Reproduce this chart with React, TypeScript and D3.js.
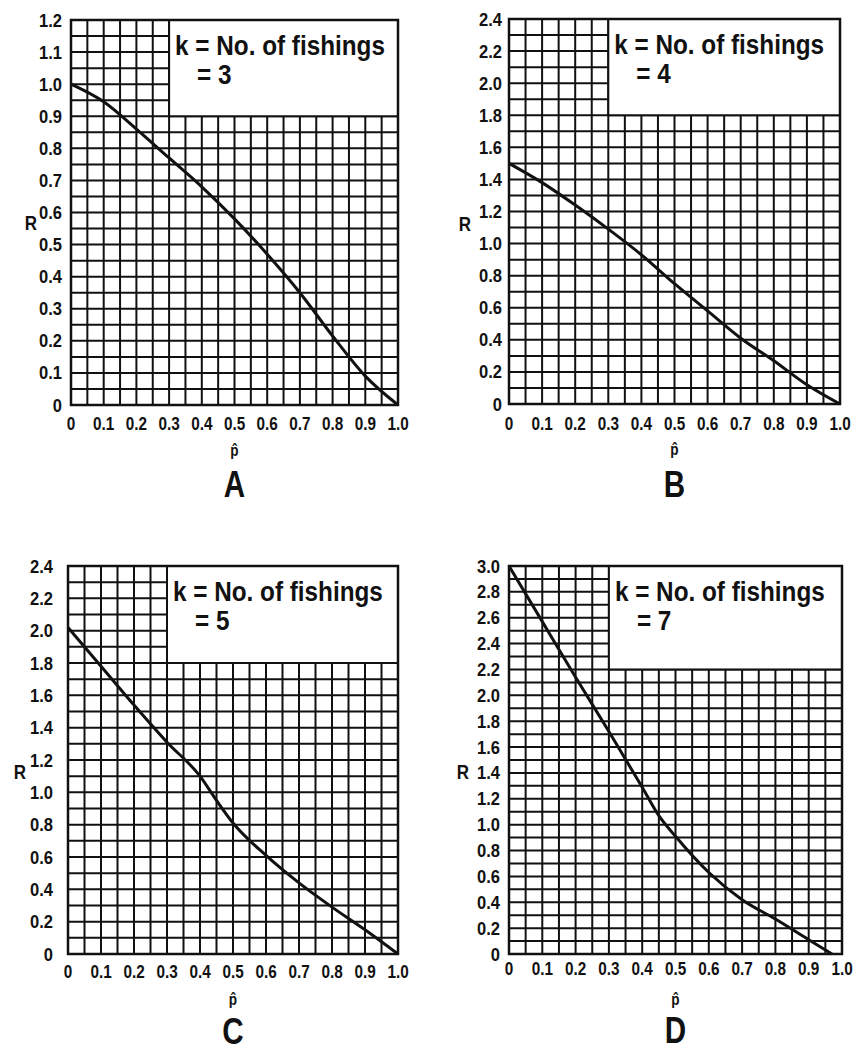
import React from "react";
import * as d3 from "d3";

// curve values (p-hat vs R)
const pA = [0, 0.1, 0.2, 0.3, 0.4, 0.5, 0.6, 0.7, 0.8, 0.9, 1.0];
const rA = [1.0, 0.945, 0.86, 0.77, 0.68, 0.58, 0.47, 0.35, 0.215, 0.09, 0];

const pB = [0, 0.1, 0.2, 0.3, 0.4, 0.5, 0.6, 0.7, 0.8, 0.9, 1.0];
const rB = [1.5, 1.38, 1.24, 1.09, 0.93, 0.75, 0.58, 0.41, 0.27, 0.12, 0];

const pC = [0, 0.1, 0.2, 0.3, 0.4, 0.45, 0.5, 0.6, 0.7, 0.8, 0.9, 1.0];
const rC = [2.02, 1.78, 1.54, 1.31, 1.1, 0.95, 0.81, 0.61, 0.44, 0.29, 0.15, 0];

const pD = [0, 0.1, 0.2, 0.3, 0.4, 0.45, 0.5, 0.6, 0.7, 0.8, 0.9, 0.97];
const rD = [3.0, 2.57, 2.14, 1.72, 1.29, 1.07, 0.91, 0.63, 0.42, 0.27, 0.11, 0];

const xTicks = [0, 0.1, 0.2, 0.3, 0.4, 0.5, 0.6, 0.7, 0.8, 0.9, 1.0];
const xTickLabels = ["0", "0.1", "0.2", "0.3", "0.4", "0.5", "0.6", "0.7", "0.8", "0.9", "1.0"];
const yTicksA = [0, 0.1, 0.2, 0.3, 0.4, 0.5, 0.6, 0.7, 0.8, 0.9, 1.0, 1.1, 1.2];
const yTicksBC = [0, 0.2, 0.4, 0.6, 0.8, 1.0, 1.2, 1.4, 1.6, 1.8, 2.0, 2.2, 2.4];
const yTicksD = [0, 0.2, 0.4, 0.6, 0.8, 1.0, 1.2, 1.4, 1.6, 1.8, 2.0, 2.2, 2.4, 2.6, 2.8, 3.0];

const panelLetters = ["A", "B", "C", "D"];
const fishings = [3, 4, 5, 7];
const legendLabel = "k = No. of fishings";

const FONT = "'Liberation Sans', Arial, sans-serif";
const INK = "#111";

function fmtY(v) {
  return v === 0 ? "0" : v.toFixed(1);
}

// bold text squeezed horizontally to mimic the condensed typeface
function T({ x, y, size, sx = 0.85, anchor = "start", children }) {
  return (
    <text
      transform={`translate(${x},${y}) scale(${sx},1)`}
      fontSize={size}
      fontWeight="bold"
      fontFamily={FONT}
      textAnchor={anchor}
      fill={INK}
    >
      {children}
    </text>
  );
}

function Panel({ left, right, top, bottom, yMax, rowStep, legendY, p, r, yTicks, letter, k, labelGap, rX, rAt, xDy, letterDy }) {
  const x = d3.scaleLinear().domain([0, 1]).range([left, right]);
  const y = d3.scaleLinear().domain([0, yMax]).range([bottom, top]);
  const cols = d3.range(0, 1.0001, 0.05);
  const rows = d3.range(0, yMax + 0.0001, rowStep);
  const line = d3
    .line()
    .x((d) => x(d[0]))
    .y((d) => y(d[1]))
    .curve(d3.curveMonotoneX);
  const pts = p.map((v, i) => [v, r[i]]);
  const cx = (left + right) / 2;
  const lx = x(0.3);

  return (
    <g>
      {cols.map((c, i) => (
        <line key={"c" + i} x1={x(c)} x2={x(c)} y1={top} y2={bottom} stroke={INK} strokeWidth={2} />
      ))}
      {rows.map((rv, i) => (
        <line key={"r" + i} x1={left} x2={right} y1={y(rv)} y2={y(rv)} stroke={INK} strokeWidth={2} />
      ))}
      <rect x={lx} y={top} width={x(1) - lx} height={y(legendY) - top} fill="#fff" stroke={INK} strokeWidth={2} />
      <rect x={left} y={top} width={right - left} height={bottom - top} fill="none" stroke={INK} strokeWidth={2.5} />
      <path d={line(pts)} fill="none" stroke={INK} strokeWidth={3} />

      <T x={lx + 6} y={top + 35} size={27} sx={0.9}>{legendLabel}</T>
      <T x={lx + 28} y={top + 64} size={27} sx={0.9}>{"= " + k}</T>

      {xTicks.map((t, i) => (
        <T key={"xt" + i} x={x(t)} y={bottom + xDy} size={18} sx={0.85} anchor="middle">
          {xTickLabels[i]}
        </T>
      ))}
      {yTicks.map((t, i) => (
        <T key={"yt" + i} x={left - labelGap} y={y(t) + 6.5} size={18} sx={0.92} anchor="end">
          {fmtY(t)}
        </T>
      ))}
      <T x={rX} y={y(yMax * rAt)} size={20} sx={0.85} anchor="middle">R</T>

      <T x={cx} y={bottom + 51} size={16} sx={0.85} anchor="middle">{"p\u0302"}</T>
      <T x={cx} y={bottom + letterDy} size={37} sx={0.8} anchor="middle">{letter}</T>
    </g>
  );
}

export default function App() {
  return (
    <div style={{ position: "absolute", left: 0, top: 0 }}>
      <svg width={867} height={1052} style={{ display: "block", background: "#fff" }}>
        <Panel left={71} right={398} top={20} bottom={405} yMax={1.2} rowStep={0.05} legendY={0.9}
          p={pA} r={rA} yTicks={yTicksA} letter={panelLetters[0]} k={fishings[0]}
          labelGap={9} rX={31} rAt={0.455} xDy={25} letterDy={92} />
        <Panel left={509} right={840} top={19} bottom={404} yMax={2.4} rowStep={0.1} legendY={1.8}
          p={pB} r={rB} yTicks={yTicksBC} letter={panelLetters[1]} k={fishings[1]}
          labelGap={7} rX={465} rAt={0.45} xDy={26} letterDy={93} />
        <Panel left={68} right={398} top={566} bottom={954} yMax={2.4} rowStep={0.1} legendY={1.8}
          p={pC} r={rC} yTicks={yTicksBC} letter={panelLetters[2]} k={fishings[2]}
          labelGap={15} rX={20} rAt={0.45} xDy={24} letterDy={90} />
        <Panel left={509} right={842} top={566} bottom={954} yMax={3.0} rowStep={0.1} legendY={2.2}
          p={pD} r={rD} yTicks={yTicksD} letter={panelLetters[3]} k={fishings[3]}
          labelGap={9} rX={463} rAt={0.45} xDy={21} letterDy={89} />
      </svg>
    </div>
  );
}
